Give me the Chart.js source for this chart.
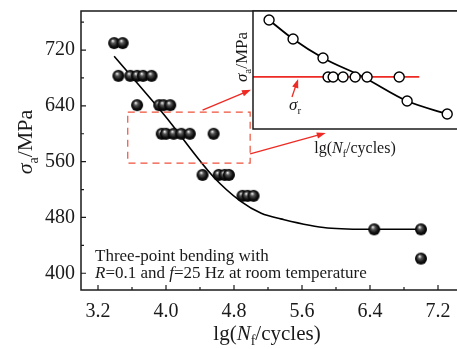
<!DOCTYPE html>
<html lang="en">
<head>
<meta charset="UTF-8">
<title>S-N curve, three-point bending</title>
<script src="https://cdn.jsdelivr.net/npm/chart.js"></script>
<style>
  html, body { margin: 0; padding: 0; background: #fff; overflow: hidden; }
  #wrap { position: relative; width: 457px; height: 349px; overflow: hidden; }
  #mainChart { position: absolute; left: 0; top: 0; }
  #insetChart { position: absolute; left: 252px; top: 10px; }
</style>
</head>
<body>
<div id="wrap">
  <canvas id="mainChart" width="480" height="349"></canvas>
  <canvas id="insetChart" width="230" height="120"></canvas>
</div>
<script>
// measured points: lg(Nf/cycles) and stress amplitude (MPa)
const lgN    = [3.39, 3.49,
                3.44, 3.58, 3.66, 3.73, 3.83,
                3.66, 3.92, 3.97, 4.05,
                3.95, 4.00, 4.09, 4.18, 4.28, 4.56,
                4.43, 4.62, 4.69, 4.74,
                4.90, 4.96, 5.03,
                6.45, 7.00, 7.00];
const stress = [730, 730,
                683, 683, 683, 683, 683,
                641, 641, 641, 641,
                600, 600, 600, 600, 600, 600,
                541, 541, 541, 541,
                511, 511, 511,
                463, 463, 421];

// fitted S-N curve
const fitLgN    = [3.39, 3.98, 4.56, 4.88, 5.12, 5.35, 5.90, 6.45, 7.00];
const fitStress = [711, 627, 538, 503, 486, 478, 465, 463, 463];

const xTicks = [3.2, 4.0, 4.8, 5.6, 6.4, 7.2];
const yTicks = [400, 480, 560, 640, 720];

// inset (schematic, arbitrary units)
const insetX    = [0.73, 1.82, 3.18, 3.41, 3.64, 4.09, 4.64, 5.18, 6.64, 7.00, 8.82];
const insetY    = [9.24, 7.63, 6.02, 4.41, 4.41, 4.41, 4.41, 4.41, 4.41, 2.37, 1.27];
const insetFitX = [0.73, 1.82, 3.18, 5.00, 7.00, 8.82];
const insetFitY = [9.24, 7.63, 6.02, 4.41, 2.37, 1.27];
const sigmaR = 4.41;
const sigmaREnd = 7.55;

const FONT = '"Liberation Serif", "Times New Roman", serif';
const RED = '#ee2a24';
const INK = '#1a1a1a';

// black ball marker with a small highlight
function makeBall(r) {
  const c = document.createElement('canvas');
  c.width = c.height = 2 * r + 2;
  const g = c.getContext('2d');
  const cx = r + 1, cy = r + 1;
  const grad = g.createRadialGradient(cx - r * 0.25, cy - r * 0.4, r * 0.05, cx, cy, r);
  grad.addColorStop(0, '#f0f0f0');
  grad.addColorStop(0.3, '#555');
  grad.addColorStop(0.7, '#111');
  grad.addColorStop(1, '#000');
  g.fillStyle = grad;
  g.beginPath();
  g.arc(cx, cy, r, 0, Math.PI * 2);
  g.fill();
  return c;
}

// text with italic / subscript parts: [text, style] style = '', 'i', 'sub'
function fontFor(style, size) {
  const sub = style.indexOf('sub') >= 0;
  const it = style.indexOf('i') === 0;
  return (it ? 'italic ' : '') + Math.round(sub ? size * 0.65 : size) + 'px ' + FONT;
}
function drawRich(ctx, parts, x, y, size, align) {
  ctx.textBaseline = 'alphabetic';
  ctx.textAlign = 'left';
  let total = 0;
  parts.forEach(p => { ctx.font = fontFor(p[1], size); total += ctx.measureText(p[0]).width; });
  let cx = align === 'center' ? x - total / 2 : x;
  parts.forEach(p => {
    ctx.font = fontFor(p[1], size);
    const dy = p[1].indexOf('sub') >= 0 ? size * 0.25 : 0;
    ctx.fillText(p[0], cx, y + dy);
    cx += ctx.measureText(p[0]).width;
  });
}

function arrow(ctx, x1, y1, x2, y2, color) {
  const a = Math.atan2(y2 - y1, x2 - x1);
  const len = 9, half = 3.2;
  ctx.save();
  ctx.strokeStyle = color;
  ctx.fillStyle = color;
  ctx.lineWidth = 1.3;
  ctx.beginPath();
  ctx.moveTo(x1, y1);
  ctx.lineTo(x2 - Math.cos(a) * len * 0.8, y2 - Math.sin(a) * len * 0.8);
  ctx.stroke();
  ctx.beginPath();
  ctx.moveTo(x2, y2);
  ctx.lineTo(x2 - Math.cos(a) * len - Math.sin(a) * half, y2 - Math.sin(a) * len + Math.cos(a) * half);
  ctx.lineTo(x2 - Math.cos(a) * len + Math.sin(a) * half, y2 - Math.sin(a) * len - Math.cos(a) * half);
  ctx.closePath();
  ctx.fill();
  ctx.restore();
}

const mainDecor = {
  id: 'mainDecor',
  afterDraw(chart) {
    const ctx = chart.ctx;
    const a = chart.chartArea;
    const xs = chart.scales.x, ys = chart.scales.y;
    ctx.save();

    // frame
    ctx.strokeStyle = INK;
    ctx.lineWidth = 1.5;
    ctx.strokeRect(a.left, a.top, a.right - a.left, a.bottom - a.top);

    // inward ticks, major + minor
    ctx.lineWidth = 1.2;
    ctx.beginPath();
    xTicks.forEach(v => {
      const px = xs.getPixelForValue(v);
      ctx.moveTo(px, a.bottom); ctx.lineTo(px, a.bottom - 5);
      const pm = xs.getPixelForValue(v + 0.4);
      if (pm < a.right) { ctx.moveTo(pm, a.bottom); ctx.lineTo(pm, a.bottom - 3); }
    });
    yTicks.forEach(v => {
      const py = ys.getPixelForValue(v);
      ctx.moveTo(a.left, py); ctx.lineTo(a.left + 5, py);
      const pm = ys.getPixelForValue(v + 40);
      if (pm > a.top) { ctx.moveTo(a.left, pm); ctx.lineTo(a.left + 3, pm); }
    });
    ctx.stroke();

    // dashed zoom box
    ctx.strokeStyle = '#f0503a';
    ctx.lineWidth = 1.2;
    ctx.setLineDash([7, 5]);
    const bx1 = xs.getPixelForValue(3.55), bx2 = xs.getPixelForValue(4.99);
    const by1 = ys.getPixelForValue(631), by2 = ys.getPixelForValue(558);
    ctx.strokeRect(bx1, by1, bx2 - bx1, by2 - by1);
    ctx.setLineDash([]);

    arrow(ctx, xs.getPixelForValue(4.43), ys.getPixelForValue(634),
               xs.getPixelForValue(5.00), ys.getPixelForValue(663), RED);
    arrow(ctx, xs.getPixelForValue(4.99), ys.getPixelForValue(571),
               xs.getPixelForValue(5.88), ys.getPixelForValue(601), RED);

    // note text
    ctx.fillStyle = INK;
    drawRich(ctx, [['Three-point bending with', '']], a.left + 14, 261, 17, 'left');
    drawRich(ctx, [['R', 'i'], ['=0.1 and ', ''], ['f', 'i'], ['=25 Hz at room temperature', '']],
             a.left + 14, 278, 17, 'left');

    // axis titles
    drawRich(ctx, [['lg(', ''], ['N', 'i'], ['f', 'sub'], ['/cycles)', '']], 267, 340, 21, 'center');
    ctx.save();
    ctx.translate(32, 142);
    ctx.rotate(-Math.PI / 2);
    drawRich(ctx, [['σ', 'i'], ['a', 'sub'], ['/MPa', '']], 0, 0, 22, 'center');
    ctx.restore();

    // inset axis titles
    drawRich(ctx, [['lg(', ''], ['N', 'i'], ['f', 'sub'], ['/cycles)', '']], 355, 153, 16, 'center');
    ctx.save();
    ctx.translate(247, 57);
    ctx.rotate(-Math.PI / 2);
    drawRich(ctx, [['σ', 'i'], ['a', 'sub'], ['/MPa', '']], 0, 0, 17, 'center');
    ctx.restore();

    ctx.restore();
  }
};

new Chart(document.getElementById('mainChart'), {
  type: 'scatter',
  data: {
    datasets: [
      {
        data: lgN.map((x, i) => ({ x: x, y: stress[i] })),
        pointStyle: makeBall(6),
        pointRadius: 6,
        pointHoverRadius: 6
      },
      {
        data: fitLgN.map((x, i) => ({ x: x, y: fitStress[i] })),
        showLine: true,
        borderColor: '#000',
        borderWidth: 1.6,
        pointRadius: 0,
        cubicInterpolationMode: 'monotone'
      }
    ]
  },
  options: {
    responsive: false,
    animation: false,
    devicePixelRatio: 1,
    layout: { autoPadding: false, padding: { left: 0, top: 11, right: 8, bottom: 0 } },
    plugins: { legend: { display: false }, tooltip: { enabled: false } },
    scales: {
      x: {
        type: 'linear', min: 3.0, max: 7.6,
        afterBuildTicks: s => { s.ticks = xTicks.map(v => ({ value: v })); },
        afterFit: s => { s.height = 59; s.paddingLeft = 0; s.paddingRight = 0; },
        grid: { display: false, drawTicks: false },
        border: { display: false },
        ticks: { font: { family: FONT, size: 20 }, color: INK, padding: 10, maxRotation: 0,
                 callback: v => v.toFixed(1) }
      },
      y: {
        type: 'linear', min: 376, max: 776,
        afterBuildTicks: s => { s.ticks = yTicks.map(v => ({ value: v })); },
        afterFit: s => { s.width = 81; s.paddingTop = 0; s.paddingBottom = 0; },
        grid: { display: false, drawTicks: false },
        border: { display: false },
        ticks: { font: { family: FONT, size: 20 }, color: INK, padding: 6 }
      }
    }
  },
  plugins: [mainDecor]
});

const insetDecor = {
  id: 'insetDecor',
  beforeDatasetsDraw(chart) {
    const ctx = chart.ctx;
    const a = chart.chartArea;
    ctx.save();
    ctx.fillStyle = '#fff';
    ctx.fillRect(a.left, a.top, a.right - a.left, a.bottom - a.top);
    ctx.restore();
  },
  afterDraw(chart) {
    const ctx = chart.ctx;
    const a = chart.chartArea;
    const xs = chart.scales.x, ys = chart.scales.y;
    ctx.save();
    ctx.strokeStyle = INK;
    ctx.lineWidth = 1.5;
    ctx.strokeRect(a.left, a.top, a.right - a.left + 5, a.bottom - a.top);
    arrow(ctx, xs.getPixelForValue(1.77), ys.getPixelForValue(2.71),
               xs.getPixelForValue(2.05), ys.getPixelForValue(4.24), RED);
    ctx.fillStyle = INK;
    drawRich(ctx, [['σ', 'i'], ['r', 'sub']], xs.getPixelForValue(1.91), ys.getPixelForValue(1.6), 17, 'center');
    ctx.restore();
  }
};

new Chart(document.getElementById('insetChart'), {
  type: 'scatter',
  data: {
    datasets: [
      {
        data: insetX.map((x, i) => ({ x: x, y: insetY[i] })),
        pointStyle: 'circle',
        pointRadius: 5,
        backgroundColor: '#fff',
        borderColor: '#000',
        borderWidth: 1.4
      },
      {
        data: insetFitX.map((x, i) => ({ x: x, y: insetFitY[i] })),
        showLine: true,
        borderColor: '#000',
        borderWidth: 1.8,
        pointRadius: 0,
        cubicInterpolationMode: 'monotone'
      },
      {
        data: [{ x: 0, y: sigmaR }, { x: sigmaREnd, y: sigmaR }],
        showLine: true,
        borderColor: RED,
        borderWidth: 1.8,
        pointRadius: 0
      }
    ]
  },
  options: {
    responsive: false,
    animation: false,
    devicePixelRatio: 1,
    layout: { autoPadding: false, padding: { left: 1, top: 1, right: 0, bottom: 1 } },
    plugins: { legend: { display: false }, tooltip: { enabled: false } },
    scales: {
      x: { type: 'linear', min: 0, max: 10.4, display: false },
      y: { type: 'linear', min: 0, max: 10, display: false }
    }
  },
  plugins: [insetDecor]
});
</script>
</body>
</html>
